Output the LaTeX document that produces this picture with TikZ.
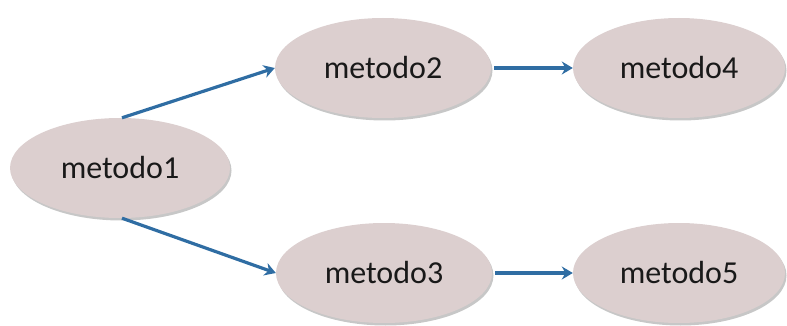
\documentclass[tikz,border=0pt]{standalone}
\usepackage{fontspec}
\setmainfont{Carlito}
\usetikzlibrary{shapes.geometric,arrows.meta,shadows}
\definecolor{nodefill}{HTML}{DCCFCF}
\definecolor{arrowblue}{HTML}{2F6DA3}
\tikzset{
  meth/.style={ellipse, fill=nodefill, inner sep=0pt,
    minimum width=216pt, minimum height=100pt,
    drop shadow={shadow xshift=1.5pt, shadow yshift=-2.5pt, fill=black!40, opacity=0.55},
    font=\fontsize{32}{38}\selectfont, text=black!90},
  link/.style={draw=arrowblue, line width=3.2pt, -{Stealth[length=11pt,width=13pt]}}
}
\begin{document}
\begin{tikzpicture}[x=1pt,y=-1pt]
\useasboundingbox (0,0) rectangle (787,326);
\node[meth, minimum width=220pt] (m1) at (120,168) {metodo1};
\node[meth] (m2) at (383,68) {metodo2};
\node[meth, minimum width=212pt] (m4) at (679,68) {metodo4};
\node[meth] (m3) at (384,273) {metodo3};
\node[meth, minimum width=212pt] (m5) at (679,273) {metodo5};
\draw[link] ([xshift=2pt]m1.north) -- (m2.west);
\draw[link] ([xshift=2pt]m1.south) -- (m3.west);
\draw[link] ([xshift=3pt]m2.east) -- (m4.west);
\draw[link] ([xshift=3pt]m3.east) -- (m5.west);
\end{tikzpicture}
\end{document}
